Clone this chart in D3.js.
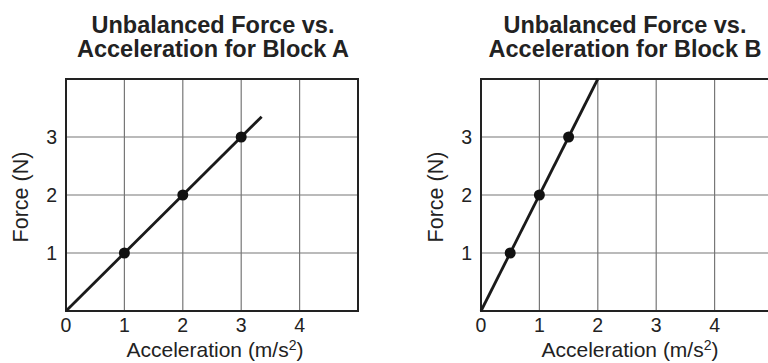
<!DOCTYPE html>
<html>
<head>
<meta charset="utf-8">
<script src="https://cdn.jsdelivr.net/npm/d3@7"></script>
<style>
  body { margin: 0; background: #fff; }
  text { font-family: "Liberation Sans", Arial, sans-serif; fill: #222; }
</style>
</head>
<body>
<svg id="chart" width="768" height="363"></svg>
<script>
// data
const xTicks = [0, 1, 2, 3, 4];
const yTicks = [1, 2, 3];
const blockAPoints = [[1, 1], [2, 2], [3, 3]];
const blockALine = [[0, 0], [3.35, 3.35]];
const blockBPoints = [[0.5, 1], [1, 2], [1.5, 3]];
const blockBLine = [[0, 0], [2, 4]];

const svg = d3.select("#chart");

function drawPanel(left, titleLines, points, line, titleShift) {
    const top = 79, bottom = 311;
    const unit = 58.4;
    const x = d3.scaleLinear().domain([0, 5]).range([left, left + 5 * unit]);
    const y = d3.scaleLinear().domain([0, 4]).range([bottom, top]);
    const g = svg.append("g");
    const cx = (x(0) + x(5)) / 2;

    // title
    titleLines.forEach((t, i) => {
        g.append("text")
            .attr("x", cx + titleShift)
            .attr("y", 32.5 + i * 24.3)
            .attr("text-anchor", "middle")
            .style("font-size", "23.5px")
            .style("font-weight", "bold")
            .text(t);
    });

    // grid
    g.selectAll(".vgrid").data([1, 2, 3, 4]).enter().append("line")
        .attr("x1", d => x(d)).attr("x2", d => x(d))
        .attr("y1", top).attr("y2", bottom)
        .attr("stroke", "#777").attr("stroke-width", 1.2);
    g.selectAll(".hgrid").data(yTicks).enter().append("line")
        .attr("x1", x(0)).attr("x2", x(5))
        .attr("y1", d => y(d)).attr("y2", d => y(d))
        .attr("stroke", "#777").attr("stroke-width", 1.2);

    // frame
    g.append("rect")
        .attr("x", x(0)).attr("y", top)
        .attr("width", x(5) - x(0)).attr("height", bottom - top)
        .attr("fill", "none").attr("stroke", "#222").attr("stroke-width", 2);

    // tick labels
    g.selectAll(".xt").data(xTicks).enter().append("text")
        .attr("x", d => x(d)).attr("y", 332)
        .attr("text-anchor", "middle")
        .style("font-size", "19.5px")
        .text(d => d);
    g.selectAll(".yt").data(yTicks).enter().append("text")
        .attr("x", x(0) - 9).attr("y", d => y(d) + 7)
        .attr("text-anchor", "end")
        .style("font-size", "19.5px")
        .text(d => d);

    // axis titles
    g.append("text")
        .attr("x", cx + 3).attr("y", 357)
        .attr("text-anchor", "middle")
        .style("font-size", "21px")
        .html("Acceleration (m/s<tspan dy='-7' font-size='14'>2</tspan><tspan dy='7'>)</tspan>");
    g.append("text")
        .attr("transform", `translate(${x(0) - 38},${(top + bottom) / 2 + 2}) rotate(-90)`)
        .attr("text-anchor", "middle")
        .style("font-size", "21.5px")
        .text("Force (N)");

    // line and points
    g.append("path")
        .datum(line)
        .attr("d", d3.line().x(d => x(d[0])).y(d => y(d[1])))
        .attr("fill", "none").attr("stroke", "#1a1a1a").attr("stroke-width", 2.8);
    g.selectAll(".pt").data(points).enter().append("circle")
        .attr("cx", d => x(d[0])).attr("cy", d => y(d[1]))
        .attr("r", 5.5).attr("fill", "#111");
}

drawPanel(66, ["Unbalanced Force vs.", "Acceleration for Block A"], blockAPoints, blockALine, 1);
drawPanel(481, ["Unbalanced Force vs.", "Acceleration for Block B"], blockBPoints, blockBLine, -2);
</script>
</body>
</html>
